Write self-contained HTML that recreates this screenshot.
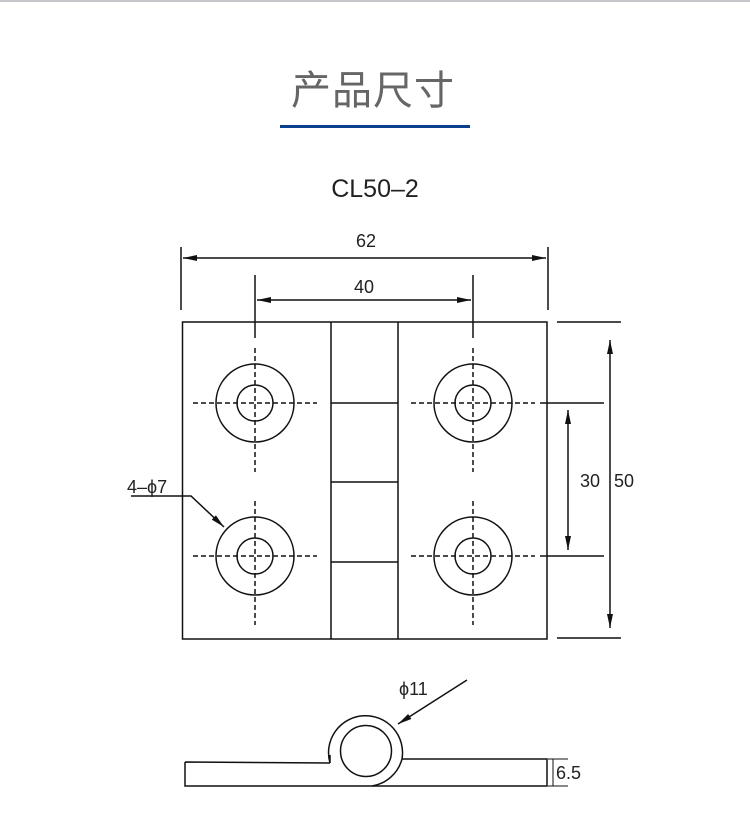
<!DOCTYPE html>
<html><head><meta charset="utf-8"><style>
html,body{margin:0;padding:0;background:#fff;}
body{width:750px;height:829px;position:relative;overflow:hidden;}
</style></head><body>
<svg width="750" height="829" viewBox="0 0 750 829" xmlns="http://www.w3.org/2000/svg" style="position:absolute;left:0;top:0">
<defs>
<marker id="a" viewBox="0 0 14 6" refX="14" refY="3" markerWidth="14" markerHeight="6" orient="auto-start-reverse" markerUnits="userSpaceOnUse"><path d="M0,0 L14,3 L0,6 z" fill="#111"/></marker>
</defs>
<rect x="0" y="0" width="750" height="2" fill="#c8c8cc"/>
<text x="373" y="104" text-anchor="middle" font-family="'Liberation Sans','Noto Sans CJK SC',sans-serif" font-size="40" fill="#666" letter-spacing="1">产品尺寸</text>
<rect x="280" y="125" width="190" height="3" fill="#0b3f8f"/>
<text x="375" y="197" text-anchor="middle" font-family="'Liberation Sans',sans-serif" font-size="25" fill="#222">CL50–2</text>
<g stroke="#111" stroke-width="1.5" fill="none">
<line x1="181" y1="247" x2="181" y2="310"/>
<line x1="548" y1="247" x2="548" y2="310"/>
<line x1="183" y1="258" x2="546" y2="258" marker-start="url(#a)" marker-end="url(#a)"/>
<line x1="255" y1="275" x2="255" y2="338"/>
<line x1="473" y1="275" x2="473" y2="338"/>
<line x1="257" y1="300" x2="471" y2="300" marker-start="url(#a)" marker-end="url(#a)"/>
<rect x="182.5" y="322" width="364.5" height="317"/>
<line x1="331" y1="322" x2="331" y2="639"/>
<line x1="398" y1="322" x2="398" y2="639"/>
<line x1="331" y1="403" x2="398" y2="403"/>
<line x1="331" y1="482" x2="398" y2="482"/>
<line x1="331" y1="562" x2="398" y2="562"/>
<circle cx="255" cy="403" r="39"/><circle cx="255" cy="403" r="18"/>
<circle cx="255" cy="556" r="39"/><circle cx="255" cy="556" r="18"/>
<circle cx="473" cy="403" r="39"/><circle cx="473" cy="403" r="18"/>
<circle cx="473" cy="556" r="39"/><circle cx="473" cy="556" r="18"/>
<line x1="557" y1="322" x2="621" y2="322"/>
<line x1="557" y1="638" x2="621" y2="638"/>
<line x1="540" y1="403" x2="604" y2="403"/>
<line x1="540" y1="556" x2="604" y2="556"/>
<line x1="610" y1="340" x2="610" y2="628" marker-start="url(#a)" marker-end="url(#a)"/>
<line x1="568" y1="410" x2="568" y2="550" marker-start="url(#a)" marker-end="url(#a)"/>
<polyline points="131,496 191,496 224,527" marker-end="url(#a)"/>
<path d="M185,762 L330,763 M185,762 L185,786 L547,786 L547,759 L402,759"/>
<path d="M330,763 A37,37 0 1 1 402,759"/>
<path d="M330,763 L330,755"/>
<path d="M372,786 A37,37 0 0 0 402,759"/>
<circle cx="366" cy="751" r="25.5"/>
<line x1="548" y1="759" x2="568" y2="759" stroke-width="1"/>
<line x1="548" y1="786" x2="568" y2="786" stroke-width="1"/>
<line x1="553" y1="759" x2="553" y2="786" stroke-width="1"/>
<line x1="467" y1="680" x2="398" y2="724" marker-end="url(#a)"/>
</g>
<g stroke="#111" stroke-width="1.5" stroke-dasharray="5,3">
<line x1="193" y1="403" x2="317" y2="403"/><line x1="255" y1="348" x2="255" y2="472"/>
<line x1="193" y1="556" x2="317" y2="556"/><line x1="255" y1="501" x2="255" y2="625"/>
<line x1="411" y1="403" x2="535" y2="403"/><line x1="473" y1="348" x2="473" y2="472"/>
<line x1="411" y1="556" x2="535" y2="556"/><line x1="473" y1="501" x2="473" y2="625"/>
</g>
<g font-family="'Liberation Sans',sans-serif" font-size="18" fill="#222">
<text x="366" y="247" text-anchor="middle">62</text>
<text x="364" y="293" text-anchor="middle">40</text>
<text x="580" y="487">30</text>
<text x="614" y="487">50</text>
<text x="127" y="493">4–ϕ7</text>
<text x="399" y="695">ϕ11</text>
<text x="556" y="779">6.5</text>
</g>
</svg>
</body></html>
